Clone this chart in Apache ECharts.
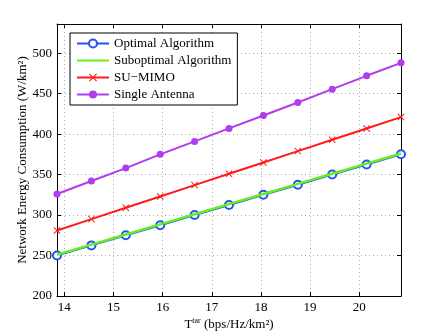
<!DOCTYPE html>
<html>
<head>
<meta charset="utf-8">
<script src="https://cdn.jsdelivr.net/npm/echarts@6/dist/echarts.min.js"></script>
<style>
  html, body { margin: 0; padding: 0; background: #fff; }
  #chart { width: 443px; height: 333px; }
</style>
</head>
<body>
<div id="chart"></div>
<script>
// data
var tTar = [13.85, 14.55, 15.25, 15.95, 16.65, 17.35, 18.05, 18.75, 19.45, 20.15, 20.85]
var optimal = [250, 262.5, 275, 287.5, 300, 312.5, 325, 337.5, 350, 362.5, 375]
var suboptimal = [251, 263.5, 276, 288.5, 301, 313.5, 326, 338.5, 351, 363.5, 376]
var suMimo = [281, 295, 309, 323, 337, 351, 365, 379, 393, 407, 421]
var singleAntenna = [326, 342, 358, 375, 391, 407, 423, 439, 455.5, 472, 488]
var xTicks = [14, 15, 16, 17, 18, 19, 20]

var font = 'Liberation Serif'
var crossPath = 'path://M1,0L5,4L9,0L10,1L6,5L10,9L9,10L5,6L1,10L0,9L4,5L0,1Z'

function pairs(ys) {
  return ys.map(function(y, i) { return [tTar[i], y] })
}

var chart = echarts.init(document.getElementById('chart'))

var gridLine = { show: true, lineStyle: { color: '#aaa', type: [1, 3], width: 1 } }
var boxLine = { show: true, lineStyle: { color: '#000', width: 1 } }

chart.setOption({
  animation: false,
  backgroundColor: '#fff',
  grid: { left: 57, right: 42, top: 24, bottom: 37, outerBoundsMode: 'none', containLabel: false },
  legend: {
    orient: 'vertical',
    left: 70,
    top: 33,
    backgroundColor: '#fff',
    borderColor: '#000',
    borderWidth: 1,
    borderRadius: 0,
    padding: [4, 6, 4, 6],
    itemGap: 4,
    itemWidth: 32,
    itemHeight: 10,
    textStyle: { fontFamily: font, fontSize: 13, color: '#000' },
    data: [
      'Optimal Algorithm',
      { name: 'Suboptimal Algorithm', itemStyle: { opacity: 0 } },
      'SU\u2212MIMO',
      'Single Antenna'
    ]
  },
  xAxis: [
    {
      type: 'value',
      min: 13.85,
      max: 20.85,
      axisLine: boxLine,
      axisTick: { show: true, inside: true, length: 4, customValues: xTicks, lineStyle: { color: '#000' } },
      axisLabel: { customValues: xTicks, fontFamily: font, fontSize: 13, color: '#000', margin: 5 },
      splitLine: gridLine,
      name: '{t|T}{s|tar}{t| (bps/Hz/km²)}',
      nameLocation: 'middle',
      nameGap: 21,
      nameMoveOverlap: false,
      nameTextStyle: {
        rich: {
          t: { fontFamily: font, fontSize: 13, color: '#000' },
          s: { fontFamily: font, fontSize: 8, color: '#000', padding: [0, 0, 7, 0] }
        }
      }
    },
    {
      type: 'value',
      position: 'top',
      min: 13.85,
      max: 20.85,
      axisLine: boxLine,
      axisTick: { show: true, inside: true, length: 4, customValues: xTicks, lineStyle: { color: '#000' } },
      axisLabel: { show: false },
      splitLine: { show: false }
    }
  ],
  yAxis: [
    {
      type: 'value',
      min: 200,
      max: 536,
      interval: 50,
      axisLine: boxLine,
      axisTick: { show: true, inside: true, length: 4, lineStyle: { color: '#000' } },
      axisLabel: {
        fontFamily: font, fontSize: 13, color: '#000', margin: 5,
        formatter: function(v) { return v % 50 === 0 ? v : '' }
      },
      splitLine: gridLine,
      name: 'Network Energy Consumption (W/km²)',
      nameLocation: 'middle',
      nameGap: 28,
      nameMoveOverlap: false,
      nameTextStyle: { fontFamily: font, fontSize: 13, color: '#000' }
    },
    {
      type: 'value',
      position: 'right',
      min: 200,
      max: 536,
      interval: 50,
      axisLine: boxLine,
      axisTick: { show: true, inside: true, length: 4, lineStyle: { color: '#000' } },
      axisLabel: { show: false },
      splitLine: { show: false }
    }
  ],
  series: [
    {
      name: 'Single Antenna',
      type: 'line',
      data: pairs(singleAntenna),
      symbol: 'circle',
      symbolSize: 7,
      color: '#b03cf0',
      lineStyle: { width: 2 },
      z: 2
    },
    {
      name: 'SU\u2212MIMO',
      type: 'line',
      data: pairs(suMimo),
      symbol: crossPath,
      symbolSize: 7,
      color: '#ff1a1a',
      lineStyle: { width: 2 },
      z: 3
    },
    {
      name: 'Optimal Algorithm',
      type: 'line',
      data: pairs(optimal),
      symbol: 'circle',
      symbolSize: 8,
      color: '#2255ee',
      itemStyle: { color: '#fff', borderColor: '#2255ee', borderWidth: 2 },
      lineStyle: { width: 2, color: '#2255ee' },
      z: 4
    },
    {
      name: 'Suboptimal Algorithm',
      type: 'line',
      data: pairs(suboptimal),
      symbol: 'none',
      color: '#66ee22',
      lineStyle: { width: 2.5 },
      z: 5
    }
  ]
})
</script>
</body>
</html>
